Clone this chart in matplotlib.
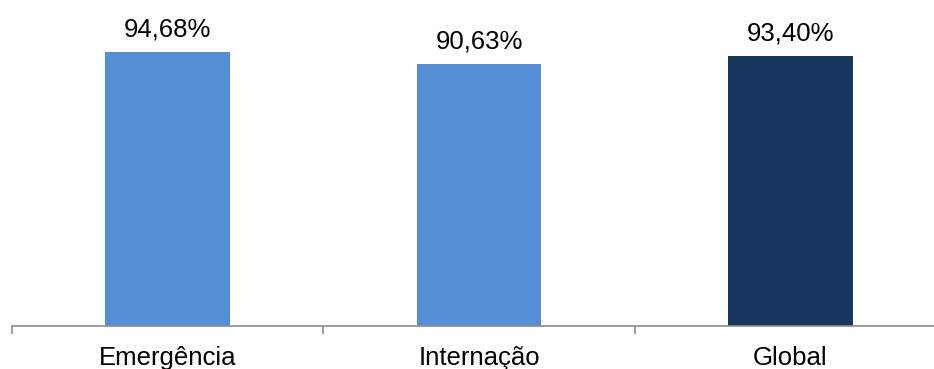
import matplotlib

matplotlib.use("Agg")
import matplotlib.pyplot as plt

categories = ["Emergência", "Internação", "Global"]
values = [94.68, 90.63, 93.40]
labels = ["94,68%", "90,63%", "93,40%"]
colors = ["#558ed5", "#558ed5", "#17375e"]

W, H = 934, 369
FONT = "Liberation Sans"
fig = plt.figure(figsize=(W / 100, H / 100), dpi=100)
# axes span a bit past the right edge, as in the source crop
left, right = 12 / W, 946 / W
bottom, top = 1 - 326 / H, 1 - 36.6 / H
ax = fig.add_axes([left, bottom, right - left, top - bottom])

x = list(range(len(categories)))
ax.bar(x, values, width=0.4, color=colors, zorder=2)
for xi, v, lab in zip(x, values, labels):
    ax.annotate(lab, (xi, v), xytext=(0, 10.8), textcoords="offset points",
                ha="center", va="baseline", fontsize=18.5, family=FONT,
                color="#000000")
# category names under the axis
for xi, cat in zip(x, categories):
    ax.annotate(cat, (xi, 0), xycoords=("data", "axes fraction"),
                xytext=(0, -28.1), textcoords="offset points",
                ha="center", va="baseline", fontsize=18.5, family=FONT,
                color="#000000")

ax.set_xlim(-0.5, 2.5)
ax.set_ylim(0, 100)
for s in ("top", "right", "left"):
    ax.spines[s].set_visible(False)
ax.spines["bottom"].set_color("#8c8c8c")
ax.spines["bottom"].set_linewidth(1.2)
ax.set_yticks([])
ax.set_xticks([-0.5, 0.5, 1.5, 2.5])
ax.set_xticklabels([])
ax.tick_params(axis="x", length=6, width=1.2, color="#8c8c8c")

fig.savefig("out.png", dpi=100)
